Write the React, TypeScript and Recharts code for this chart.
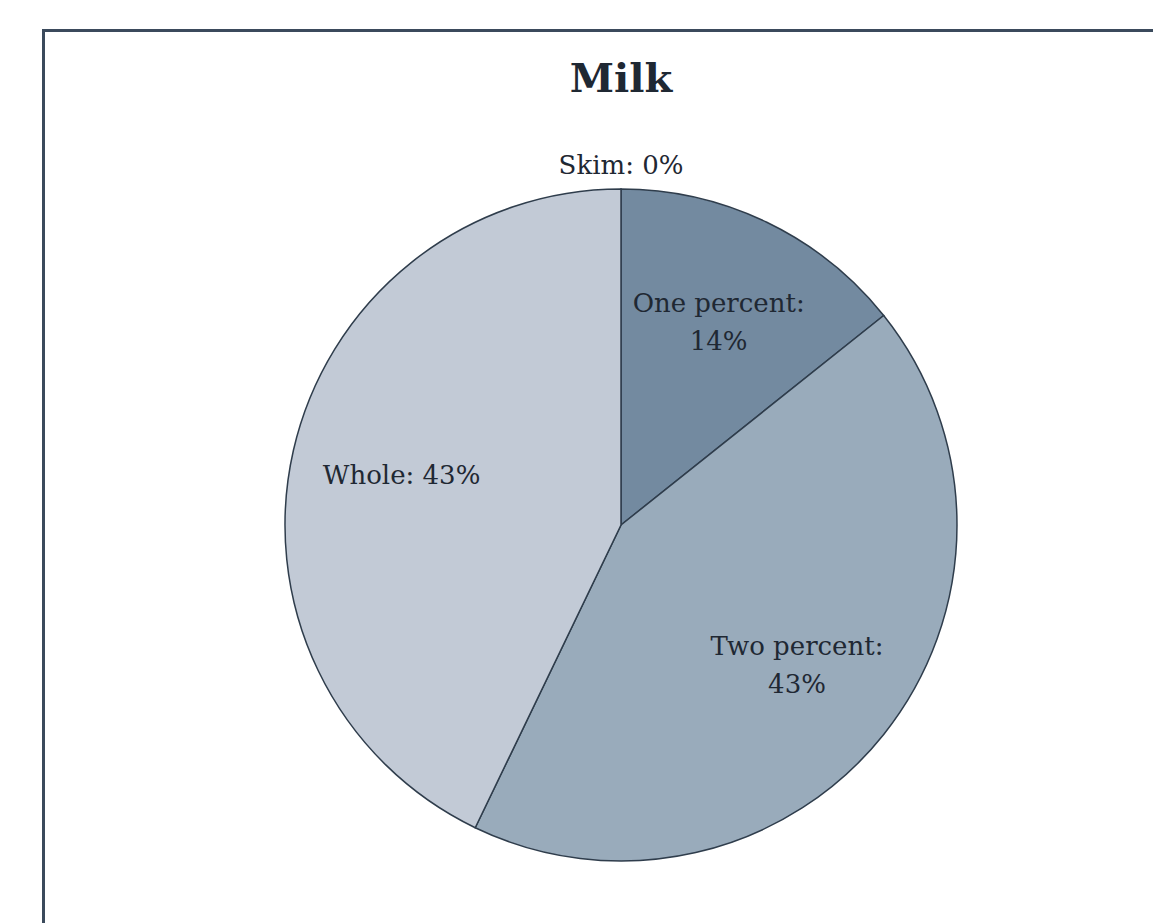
import { Cell, Pie, PieChart } from "recharts";

// Milk types in the survey, with counts per type
const milkTypes = ["Skim", "One percent", "Two percent", "Whole"];
const milkCounts = [0, 1, 3, 3];
const sliceColors = ["#5f7891", "#738aa0", "#99abbb", "#c2cad6"];

const data = milkTypes.map((name, i) => ({ name, value: milkCounts[i] }));

const RAD = Math.PI / 180;
const FONT = "'DejaVu Serif', serif";
const INK = "#1f2833";

function SliceLabel(props: any) {
  const { cx, cy, midAngle, outerRadius, percent, name } = props;
  const pct = `${Math.round((percent ?? 0) * 100)}%`;
  const text = `${name}: ${pct}`;
  // empty slices get their label just outside the rim
  const r = percent === 0 ? outerRadius + 24 : outerRadius * 0.67;
  const x = cx + r * Math.cos(-midAngle * RAD);
  const y = cy + r * Math.sin(-midAngle * RAD);
  const lines = text.length > 12 ? [`${name}:`, pct] : [text];
  const lh = 38;
  const y0 = y - ((lines.length - 1) * lh) / 2;
  return (
    <text
      x={x}
      y={y0}
      textAnchor="middle"
      dominantBaseline="central"
      fontFamily={FONT}
      fontSize={26}
      fill={INK}
    >
      {lines.map((l, i) => (
        <tspan key={i} x={x} dy={i === 0 ? 0 : lh}>
          {l}
        </tspan>
      ))}
    </text>
  );
}

export default function App() {
  return (
    <div
      style={{
        position: "absolute",
        left: 0,
        top: 0,
        width: 1153,
        height: 923,
        overflow: "hidden",
        background: "#fff",
      }}
    >
      <div
        style={{
          position: "absolute",
          left: 42,
          top: 29,
          width: 1200,
          height: 1000,
          border: "3px solid #3b4a5c",
        }}
      />
      <div
        style={{
          position: "absolute",
          left: 0,
          width: 1242,
          top: 54,
          textAlign: "center",
          fontFamily: FONT,
          fontWeight: 700,
          fontSize: 40,
          color: INK,
        }}
      >
        Milk
      </div>
      <div style={{ position: "absolute", left: 0, top: 0 }}>
        <PieChart width={1153} height={923} margin={{ top: 0, right: 0, bottom: 0, left: 0 }}>
          <Pie
            data={data}
            dataKey="value"
            nameKey="name"
            cx={621}
            cy={525}
            outerRadius={336}
            startAngle={90}
            endAngle={-270}
            stroke="#2f3d4c"
            strokeWidth={1.5}
            label={SliceLabel}
            labelLine={false}
            isAnimationActive={false}
          >
            {data.map((d, i) => (
              <Cell key={d.name} fill={sliceColors[i]} />
            ))}
          </Pie>
        </PieChart>
      </div>
    </div>
  );
}
